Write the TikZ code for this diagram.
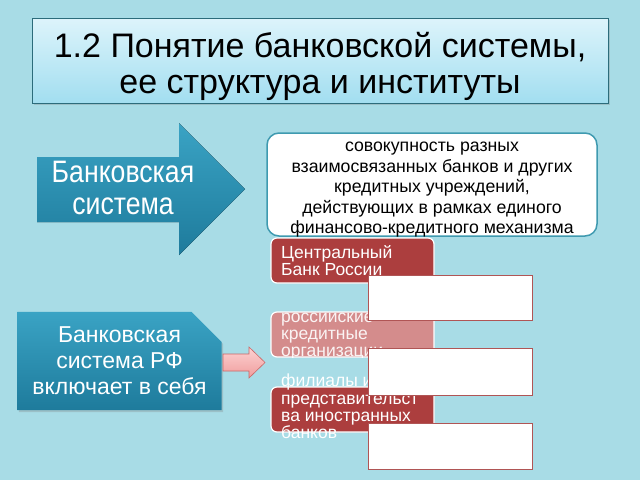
\documentclass[tikz,border=0pt]{standalone}
\usepackage{fontspec}
\setmainfont{Liberation Sans}
\newfontfamily\narrowfont{Liberation Sans}[FakeStretch=0.86]
\usetikzlibrary{shapes.misc,shadows}

\definecolor{slidebg}{HTML}{A8DCE6}
\definecolor{titletop}{HTML}{DDF4FB}
\definecolor{titlebot}{HTML}{A2DEF0}
\definecolor{bluetop}{HTML}{3AA3C4}
\definecolor{bluebot}{HTML}{1E7B9C}
\definecolor{tealline}{HTML}{3F9AB0}
\definecolor{darkred}{HTML}{AC3E3E}
\definecolor{fadedred}{HTML}{D48C8C}
\definecolor{pinktop}{HTML}{FCD3D3}
\definecolor{pinkbot}{HTML}{F09C9C}
\definecolor{pinkline}{HTML}{CC6666}
\definecolor{boxline}{HTML}{B05555}

\begin{document}
\begin{tikzpicture}[x=1pt,y=-1pt,
    bluefill/.style={top color=bluetop,bottom color=bluebot,draw=none},
    softshadow/.style={drop shadow={opacity=0.3,shadow xshift=1.5pt,shadow yshift=-2pt}},
    redbox/.style={rounded corners=6pt,draw=white,line width=1.2pt,minimum width=163pt,minimum height=45pt},
    redtext/.style={anchor=north west,inner sep=0pt,align=left,text=white,font=\fontsize{17.5}{17.2}\selectfont},
    whitebox/.style={fill=white,draw=boxline,line width=1pt,minimum width=164pt,drop shadow={opacity=0.25,shadow xshift=1pt,shadow yshift=-1pt}}]
    \fill[slidebg] (0,0) rectangle (640,480);
    \useasboundingbox (0,0) rectangle (640,480);
    \node[draw=tealline!70!black,line width=0.6pt,top color=titletop,bottom color=titlebot,
        minimum width=576pt,minimum height=85pt,softshadow] (title) at (320,60.5) {};
    \node[align=center,inner sep=0pt,font=\fontsize{34}{36}\selectfont] (titletext) at (320,66)
        {1.2 Понятие банковской системы,\\ее структура и институты};
    \fill[bluefill] (37,157) -- (179,157) -- (179,123) -- (245,189) -- (179,255) -- (179,222) -- (37,222) -- cycle;
    \node[align=center,text=white,inner sep=0pt,font=\narrowfont\fontsize{31}{32}\selectfont] (bigarrowtext) at (123,188) {Банковская\\система};
    \node[draw=tealline,line width=1.5pt,fill=white,rounded corners=12pt,
        minimum width=330pt,minimum height=103pt] (defn) at (432,184.5) {};
    \node[align=center,inner sep=0pt,font=\fontsize{17.7}{20.5}\selectfont] (defntext) at (432,190)
        {совокупность разных\\взаимосвязанных банков и других\\кредитных учреждений,\\действующих в рамках единого\\финансово-кредитного механизма};
    \node[chamfered rectangle,chamfered rectangle corners=north east,chamfered rectangle sep=15pt,
        bluefill,minimum width=195pt,minimum height=80pt,inner sep=0pt,align=center,text=white,softshadow,
        font=\fontsize{23}{26}\selectfont] (rfbox) at (119.5,361)
        {Банковская\\система РФ\\включает в себя};
    \draw[top color=pinktop,bottom color=pinkbot,draw=pinkline,line width=0.6pt]
        (223,354) -- (249,354) -- (249,347) -- (265,362.5) -- (249,378) -- (249,371) -- (223,371) -- cycle;
    % institutions
    \node[redbox,fill=darkred] (cb) at (352.5,260.5) {};
    \node[redtext] (cbtext) at (281,245) {Центральный\\Банк России};
    \node[redbox,fill=fadedred] (rko) at (352.5,334.5) {};
    \begin{scope}
        \clip (270,312) rectangle (436,357);
        \node[redtext,text opacity=0.9] (rkotext) at (281,309) {российские\\кредитные\\организации};
    \end{scope}
    \node[redbox,fill=darkred] (fil) at (352.5,409.5) {};
    \node[redtext] (filtext) at (281,374) {филиалы и\\представительст\\ва иностранных\\банков};
    \node[whitebox,minimum height=45pt] (w1) at (450,297.5) {};
    \node[whitebox,minimum height=47pt] (w2) at (450,371.5) {};
    \node[whitebox,minimum height=46pt] (w3) at (450,446) {};
\end{tikzpicture}
\end{document}
